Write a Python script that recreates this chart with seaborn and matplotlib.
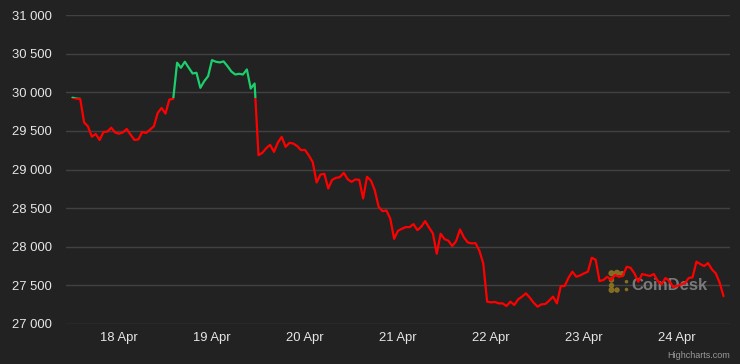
import matplotlib
matplotlib.use("Agg")
import numpy as np
import pandas as pd
import matplotlib.pyplot as plt
import matplotlib.dates as mdates
import seaborn as sns
from matplotlib.ticker import FuncFormatter, FixedLocator
from matplotlib.patches import Rectangle, Circle
from matplotlib.transforms import blended_transform_factory

# ---------------- data ----------------
start_time = "2023-04-17 12:00"   # hourly BTC price points
price = [
    29930, 29918, 29914, 29610, 29558, 29425, 29460, 29382, 29486, 29490,
    29541, 29480, 29463, 29480, 29525, 29450, 29382, 29390, 29486, 29473,
    29515, 29558, 29732, 29797, 29723, 29905, 29914,
    30382, 30317, 30395, 30317, 30243, 30252, 30057, 30143, 30208, 30416,
    30395, 30386, 30399, 30338, 30269, 30230, 30239, 30230, 30295, 30048, 30113,
    29185, 29216, 29276, 29319, 29228, 29349, 29422, 29293, 29345, 29336,
    29302, 29250, 29254, 29181, 29095, 28832, 28935, 28944, 28754, 28866,
    28892, 28901, 28957, 28875, 28840, 28871, 28866, 28625, 28905, 28858,
    28733, 28517, 28461, 28470, 28366, 28103, 28207, 28233, 28254, 28254,
    28293, 28215, 28259, 28332, 28250, 28172, 27910, 28168, 28099, 28078,
    28009, 28073, 28224, 28121, 28056, 28043, 28047, 27948, 27784, 27289,
    27280, 27285, 27267, 27267, 27233, 27289, 27246, 27319, 27354, 27397,
    27341, 27276, 27224, 27254, 27259, 27302, 27354, 27267, 27491, 27491,
    27599, 27677, 27612, 27629, 27655, 27677, 27858, 27832, 27556, 27569,
    27612, 27569, 27634, 27612, 27621, 27741, 27728, 27655, 27547, 27647,
    27634, 27621, 27647, 27560, 27513, 27595, 27556, 27479, 27491, 27513,
    27526, 27595, 27604, 27806, 27776, 27750, 27789, 27707, 27655, 27534,
    27360,
]
y_ticks = [27000, 27500, 28000, 28500, 29000, 29500, 30000, 30500, 31000]
x_tick_days = ["2023-04-18", "2023-04-19", "2023-04-20", "2023-04-21",
               "2023-04-22", "2023-04-23", "2023-04-24"]
x_range = ["2023-04-17 10:20", "2023-04-24 13:40"]
credit_text = "Highcharts.com"
watermark_text = "CoinDesk"

df = pd.DataFrame({
    "time": pd.date_range(start_time, periods=len(price), freq="h"),
    "price": price,
})
threshold = price[0]

# ---------------- style ----------------
BG = "#222222"
GRID = "#414141"
TXT = "#e6e6e6"
RED = "#ff0000"
GREEN = "#1ccf6c"

sns.set_theme(style="dark")
plt.rcParams["font.family"] = ["Liberation Sans", "DejaVu Sans"]

W, H = 740, 364
fig = plt.figure(figsize=(W / 100, H / 100), dpi=100, facecolor=BG)
L, R, T, B = 66, 730, 15, 324
ax = fig.add_axes([L / W, 1 - B / H, (R - L) / W, (B - T) / H])
ax.set_facecolor(BG)

sns.lineplot(data=df, x="time", y="price", color=RED, lw=1.6, ax=ax, zorder=3)
line_red = ax.lines[-1]
sns.lineplot(data=df, x="time", y="price", color=GREEN, lw=1.6, ax=ax, zorder=3)
line_green = ax.lines[-1]

ax.set_ylim(y_ticks[0], y_ticks[-1])
ax.set_xlim(pd.Timestamp(x_range[0]), pd.Timestamp(x_range[1]))

# zone colouring: green above the starting price, red below
btf = blended_transform_factory(ax.transAxes, ax.transData)
above = Rectangle((0, threshold), 1, 1e6, transform=btf)
below = Rectangle((0, threshold - 1e6), 1, 1e6, transform=btf)
line_green.set_clip_path(above)
line_red.set_clip_path(below)

# axes decoration
for s in ax.spines.values():
    s.set_visible(False)
ax.yaxis.set_major_locator(FixedLocator(y_ticks))
ax.yaxis.set_major_formatter(FuncFormatter(lambda v, p: f"{int(v):,}".replace(",", " ")))
ax.xaxis.set_major_locator(FixedLocator([mdates.date2num(pd.Timestamp(d)) for d in x_tick_days]))
ax.xaxis.set_major_formatter(mdates.DateFormatter("%-d %b"))
ax.grid(False)
ax.yaxis.grid(True, color=GRID, lw=1.0)
ax.set_axisbelow(True)
ax.tick_params(axis="both", length=0, colors=TXT, labelsize=9.4)
ax.tick_params(axis="y", pad=10)
ax.tick_params(axis="x", pad=6)
ax.set_xlabel("")
ax.set_ylabel("")

# watermark (under the line)
ax.text((631 - L) / (R - L), (B - 285) / (B - T), watermark_text,
        transform=ax.transAxes, ha="left", va="center", fontsize=12,
        fontweight="bold", family=["Liberation Sans"],
        color="#8f8f8f", alpha=0.8, zorder=1)
logo_dots = [(611.5, 273.3, 2.4), (617.0, 272.8, 2.4), (622.0, 273.8, 2.2),
             (611.5, 280.0, 2.0), (611.5, 285.5, 2.0), (611.5, 290.0, 2.3),
             (617.0, 290.0, 2.0), (626.5, 281.7, 1.1), (626.5, 289.5, 1.1)]
for (px, py, r) in logo_dots:
    ax.add_patch(Circle((px / 100, (H - py) / 100), r / 100,
                        transform=fig.dpi_scale_trans, color="#8c7322",
                        alpha=0.9, zorder=1))

fig.text(R / W, 1 - 356 / H, credit_text, ha="right", va="center",
         fontsize=6.5, color="#9a9a9a")

fig.savefig("out.png", dpi=100, facecolor=BG)
